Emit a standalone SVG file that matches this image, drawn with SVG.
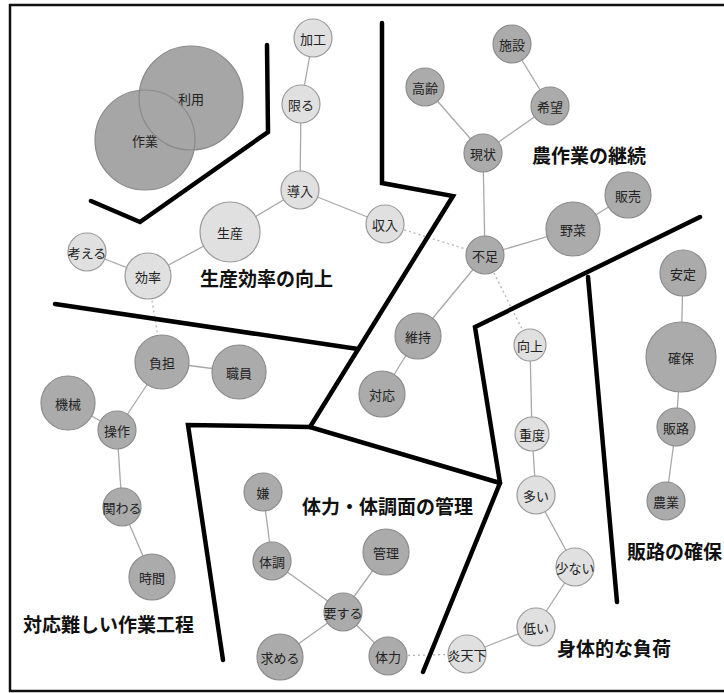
<svg xmlns="http://www.w3.org/2000/svg" width="724" height="693" viewBox="0 0 724 693">
<style>
.lt circle{fill:#e0e0e0;stroke:#9a9a9a;stroke-width:1.2}
.dk circle{fill:#ababab;stroke:#8c8c8c;stroke-width:1.2}
.big{fill:#a6a6a6;stroke:none}
.ring{fill:none;stroke:#8a8a8a;stroke-width:1.2}
.node text{font-family:"Noto Sans CJK JP","Noto Sans",sans-serif;font-size:13px;fill:#222;text-anchor:middle;dominant-baseline:central}
.e{stroke:#a8a8a8;stroke-width:1.3;fill:none}
.d{stroke:#b4b4b4;stroke-width:1.3;stroke-dasharray:2 3;fill:none}
.wall{stroke:#000;stroke-width:4.5;fill:none;stroke-linecap:round;stroke-linejoin:miter}
.cat{font-family:"Noto Sans CJK JP","Noto Sans",sans-serif;font-size:19px;font-weight:bold;fill:#111;dominant-baseline:central}
</style>
<rect x="10" y="5" width="720" height="686" fill="#fff" stroke="#111" stroke-width="2.5"/>
<g id="connectors">
<line class="e" x1="313" y1="38" x2="301" y2="104"/>
<line class="e" x1="301" y1="104" x2="300" y2="190"/>
<line class="e" x1="300" y1="190" x2="230" y2="232"/>
<line class="e" x1="300" y1="190" x2="385" y2="224"/>
<line class="e" x1="230" y1="232" x2="148" y2="276"/>
<line class="e" x1="148" y1="276" x2="87" y2="252"/>
<line class="d" x1="385" y1="224" x2="485" y2="255"/>
<line class="d" x1="148" y1="276" x2="162" y2="362"/>
<line class="e" x1="512" y1="44" x2="550" y2="106"/>
<line class="e" x1="550" y1="106" x2="483" y2="153"/>
<line class="e" x1="425" y1="87" x2="483" y2="153"/>
<line class="e" x1="483" y1="153" x2="485" y2="255"/>
<line class="e" x1="485" y1="255" x2="573" y2="229"/>
<line class="e" x1="573" y1="229" x2="628" y2="195"/>
<line class="e" x1="485" y1="255" x2="418" y2="336"/>
<line class="e" x1="418" y1="336" x2="382" y2="394"/>
<line class="d" x1="485" y1="255" x2="530" y2="345"/>
<line class="e" x1="683" y1="273" x2="681" y2="357"/>
<line class="e" x1="681" y1="357" x2="676" y2="427"/>
<line class="e" x1="676" y1="427" x2="666" y2="501"/>
<line class="e" x1="162" y1="362" x2="239" y2="372"/>
<line class="e" x1="162" y1="362" x2="117" y2="430"/>
<line class="e" x1="68" y1="403" x2="117" y2="430"/>
<line class="e" x1="117" y1="430" x2="122" y2="507"/>
<line class="e" x1="122" y1="507" x2="152" y2="577"/>
<line class="e" x1="263" y1="492" x2="272" y2="561"/>
<line class="e" x1="272" y1="561" x2="343" y2="612"/>
<line class="e" x1="343" y1="612" x2="386" y2="552"/>
<line class="e" x1="343" y1="612" x2="280" y2="657"/>
<line class="e" x1="343" y1="612" x2="388" y2="656"/>
<line class="d" x1="388" y1="656" x2="467" y2="654"/>
<line class="e" x1="530" y1="345" x2="532" y2="434"/>
<line class="e" x1="532" y1="434" x2="536" y2="495"/>
<line class="e" x1="536" y1="495" x2="575" y2="567"/>
<line class="e" x1="575" y1="567" x2="536" y2="627"/>
<line class="e" x1="536" y1="627" x2="467" y2="654"/>
</g>
<g id="walls">
<polyline class="wall" points="267,45 268,132 140,222 91,201"/>
<polyline class="wall" points="382,23 382,183 453,196 310,427"/>
<polyline class="wall" points="55,304 358,349"/>
<polyline class="wall" points="223,660 188,425 310,427 500,483"/>
<polyline class="wall" points="700,217 475,327 500,483 423,672"/>
<polyline class="wall" points="588,277 617,602"/>
</g>
<g id="n-riyou" class="node"><circle class="big" cx="191" cy="98" r="52"/><text x="191" y="98">利用</text></g>
<g id="n-sagyou" class="node"><circle class="big" cx="145" cy="140" r="50"/><text x="145" y="140">作業</text></g>
<g id="overlap-rings"><circle class="ring" cx="191" cy="98" r="52"/><circle class="ring" cx="145" cy="140" r="50"/></g>
<g id="n-kakou" class="node lt"><circle cx="313" cy="38" r="19"/><text x="313" y="38">加工</text></g>
<g id="n-kagiru" class="node lt"><circle cx="301" cy="104" r="19"/><text x="301" y="104">限る</text></g>
<g id="n-dounyuu" class="node lt"><circle cx="300" cy="190" r="19"/><text x="300" y="190">導入</text></g>
<g id="n-seisan" class="node lt"><circle cx="230" cy="232" r="30"/><text x="230" y="232">生産</text></g>
<g id="n-kangaeru" class="node lt"><circle cx="87" cy="252" r="19"/><text x="87" y="252">考える</text></g>
<g id="n-kouritsu" class="node lt"><circle cx="148" cy="276" r="23"/><text x="148" y="276">効率</text></g>
<g id="n-shuunyuu" class="node lt"><circle cx="385" cy="224" r="19"/><text x="385" y="224">収入</text></g>
<g id="n-shisetsu" class="node dk"><circle cx="512" cy="44" r="19"/><text x="512" y="44">施設</text></g>
<g id="n-kourei" class="node dk"><circle cx="425" cy="87" r="19"/><text x="425" y="87">高齢</text></g>
<g id="n-kibou" class="node dk"><circle cx="550" cy="106" r="19"/><text x="550" y="106">希望</text></g>
<g id="n-genjou" class="node dk"><circle cx="483" cy="153" r="19"/><text x="483" y="153">現状</text></g>
<g id="n-hanbai" class="node dk"><circle cx="628" cy="195" r="23"/><text x="628" y="195">販売</text></g>
<g id="n-yasai" class="node dk"><circle cx="573" cy="229" r="27"/><text x="573" y="229">野菜</text></g>
<g id="n-fusoku" class="node dk"><circle cx="485" cy="255" r="19"/><text x="485" y="255">不足</text></g>
<g id="n-iji" class="node dk"><circle cx="418" cy="336" r="23"/><text x="418" y="336">維持</text></g>
<g id="n-taiou" class="node dk"><circle cx="382" cy="394" r="23"/><text x="382" y="394">対応</text></g>
<g id="n-antei" class="node dk"><circle cx="683" cy="273" r="23"/><text x="683" y="273">安定</text></g>
<g id="n-kakuho" class="node dk"><circle cx="681" cy="357" r="35"/><text x="681" y="357">確保</text></g>
<g id="n-hanro" class="node dk"><circle cx="676" cy="427" r="19"/><text x="676" y="427">販路</text></g>
<g id="n-nougyou" class="node dk"><circle cx="666" cy="501" r="19"/><text x="666" y="501">農業</text></g>
<g id="n-futan" class="node dk"><circle cx="162" cy="362" r="27"/><text x="162" y="362">負担</text></g>
<g id="n-shokuin" class="node dk"><circle cx="239" cy="372" r="27"/><text x="239" y="372">職員</text></g>
<g id="n-kikai" class="node dk"><circle cx="68" cy="403" r="27"/><text x="68" y="403">機械</text></g>
<g id="n-sousa" class="node dk"><circle cx="117" cy="430" r="19"/><text x="117" y="430">操作</text></g>
<g id="n-kakawaru" class="node dk"><circle cx="122" cy="507" r="19"/><text x="122" y="507">関わる</text></g>
<g id="n-jikan" class="node dk"><circle cx="152" cy="577" r="23"/><text x="152" y="577">時間</text></g>
<g id="n-iya" class="node dk"><circle cx="263" cy="492" r="19"/><text x="263" y="492">嫌</text></g>
<g id="n-taichou" class="node dk"><circle cx="272" cy="561" r="19"/><text x="272" y="561">体調</text></g>
<g id="n-yousuru" class="node dk"><circle cx="343" cy="612" r="19"/><text x="343" y="612">要する</text></g>
<g id="n-motomeru" class="node dk"><circle cx="280" cy="657" r="23"/><text x="280" y="657">求める</text></g>
<g id="n-kanri" class="node dk"><circle cx="386" cy="552" r="23"/><text x="386" y="552">管理</text></g>
<g id="n-tairyoku" class="node dk"><circle cx="388" cy="656" r="19"/><text x="388" y="656">体力</text></g>
<g id="n-koujou" class="node lt"><circle cx="530" cy="345" r="16"/><text x="530" y="345">向上</text></g>
<g id="n-juudo" class="node lt"><circle cx="532" cy="434" r="17"/><text x="532" y="434">重度</text></g>
<g id="n-ooi" class="node lt"><circle cx="536" cy="495" r="19"/><text x="536" y="495">多い</text></g>
<g id="n-sukunai" class="node lt"><circle cx="575" cy="567" r="19"/><text x="575" y="567">少ない</text></g>
<g id="n-hikui" class="node lt"><circle cx="536" cy="627" r="19"/><text x="536" y="627">低い</text></g>
<g id="n-entenka" class="node lt"><circle cx="467" cy="654" r="19"/><text x="467" y="654">炎天下</text></g>
<g id="labels">
<text class="cat" x="200" y="277">生産効率の向上</text>
<text class="cat" x="532" y="154">農作業の継続</text>
<text class="cat" x="23" y="623">対応難しい作業工程</text>
<text class="cat" x="302" y="505">体力・体調面の管理</text>
<text class="cat" x="627" y="550">販路の確保</text>
<text class="cat" x="557" y="647">身体的な負荷</text>
</g>
</svg>
